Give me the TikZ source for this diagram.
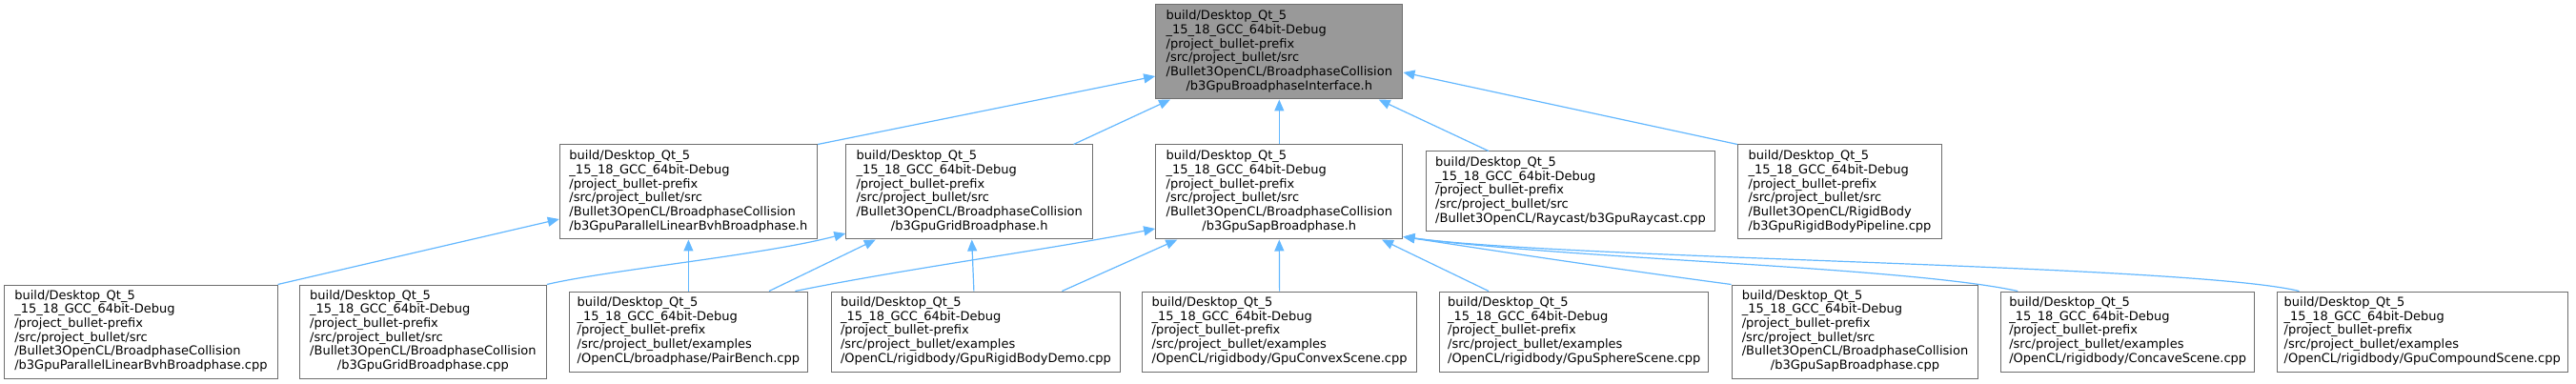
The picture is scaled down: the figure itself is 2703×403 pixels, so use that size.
\documentclass[tikz,border=0pt]{standalone}
\usepackage{fontspec}
\setmainfont{DejaVu Sans}
\usetikzlibrary{arrows.meta}
\definecolor{edgeblue}{HTML}{63B8FF}
\definecolor{boxborder}{HTML}{6E6E6E}
\definecolor{rootfill}{HTML}{999999}
\newcommand{\dpre}{build/Desktop\_Qt\_5\\\_15\_18\_GCC\_64bit-Debug\\/project\_bullet-prefix\\}
\newcommand{\lastc}[1]{\multicolumn{1}{@{}c@{}}{#1}}
\tikzset{
  box/.style={draw=boxborder, fill=white, line width=1pt, inner sep=0pt,
    font=\fontsize{13}{14.67}\selectfont, text=black},
  rootbox/.style={box, fill=rootfill},
  edge/.style={draw=edgeblue, line width=1.2pt, -{Triangle[length=12pt,width=10pt]}}
}
\begin{document}
\begin{tikzpicture}[x=1pt,y=-1pt]
\useasboundingbox (0,0) rectangle (2703,403);
\fill[white] (0,0) rectangle (2703,403);
% row 1
\node[rootbox, minimum width=259.3pt, minimum height=99pt] (top) at (1342.3,54.5)
  {\begin{tabular}{@{}l@{}}\dpre /src/project\_bullet/src\\/Bullet3OpenCL/BroadphaseCollision\\\lastc{/b3GpuBroadphaseInterface.h}\end{tabular}};
% row 2
\node[box, minimum width=270.3pt, minimum height=99pt] (A) at (722.4,201.5)
  {\begin{tabular}{@{}l@{}}\dpre /src/project\_bullet/src\\/Bullet3OpenCL/BroadphaseCollision\\\lastc{/b3GpuParallelLinearBvhBroadphase.h}\end{tabular}};
\node[box, minimum width=258.7pt, minimum height=99pt] (B) at (1017.2,201.5)
  {\begin{tabular}{@{}l@{}}\dpre /src/project\_bullet/src\\/Bullet3OpenCL/BroadphaseCollision\\\lastc{/b3GpuGridBroadphase.h}\end{tabular}};
\node[box, minimum width=259.3pt, minimum height=99pt] (C) at (1342.3,201.5)
  {\begin{tabular}{@{}l@{}}\dpre /src/project\_bullet/src\\/Bullet3OpenCL/BroadphaseCollision\\\lastc{/b3GpuSapBroadphase.h}\end{tabular}};
\node[box, minimum width=302.7pt, minimum height=84pt] (D) at (1648,201)
  {\begin{tabular}{@{}l@{}}\dpre /src/project\_bullet/src\\\lastc{/Bullet3OpenCL/Raycast/b3GpuRaycast.cpp}\end{tabular}};
\node[box, minimum width=213.9pt, minimum height=99pt] (E) at (1930.5,201.5)
  {\begin{tabular}{@{}l@{}}\dpre /src/project\_bullet/src\\/Bullet3OpenCL/RigidBody\\\lastc{/b3GpuRigidBodyPipeline.cpp}\end{tabular}};
% row 3
\node[box, minimum width=286.2pt, minimum height=98pt] (F) at (147.9,348)
  {\begin{tabular}{@{}l@{}}\dpre /src/project\_bullet/src\\/Bullet3OpenCL/BroadphaseCollision\\\lastc{/b3GpuParallelLinearBvhBroadphase.cpp}\end{tabular}};
\node[box, minimum width=259pt, minimum height=98pt] (G) at (443.9,348)
  {\begin{tabular}{@{}l@{}}\dpre /src/project\_bullet/src\\/Bullet3OpenCL/BroadphaseCollision\\\lastc{/b3GpuGridBroadphase.cpp}\end{tabular}};
\node[box, minimum width=250.3pt, minimum height=84pt] (H) at (722.4,348)
  {\begin{tabular}{@{}l@{}}\dpre /src/project\_bullet/examples\\\lastc{/OpenCL/broadphase/PairBench.cpp}\end{tabular}};
\node[box, minimum width=303.1pt, minimum height=84pt] (I) at (1023.9,348)
  {\begin{tabular}{@{}l@{}}\dpre /src/project\_bullet/examples\\\lastc{/OpenCL/rigidbody/GpuRigidBodyDemo.cpp}\end{tabular}};
\node[box, minimum width=287.5pt, minimum height=84pt] (J) at (1342.6,348)
  {\begin{tabular}{@{}l@{}}\dpre /src/project\_bullet/examples\\\lastc{/OpenCL/rigidbody/GpuConvexScene.cpp}\end{tabular}};
\node[box, minimum width=282.5pt, minimum height=84pt] (K) at (1651.7,348)
  {\begin{tabular}{@{}l@{}}\dpre /src/project\_bullet/examples\\\lastc{/OpenCL/rigidbody/GpuSphereScene.cpp}\end{tabular}};
\node[box, minimum width=258.9pt, minimum height=98pt] (L) at (1946.5,348)
  {\begin{tabular}{@{}l@{}}\dpre /src/project\_bullet/src\\/Bullet3OpenCL/BroadphaseCollision\\\lastc{/b3GpuSapBroadphase.cpp}\end{tabular}};
\node[box, minimum width=265.9pt, minimum height=84pt] (M) at (2232.7,348)
  {\begin{tabular}{@{}l@{}}\dpre /src/project\_bullet/examples\\\lastc{/OpenCL/rigidbody/ConcaveScene.cpp}\end{tabular}};
\node[box, minimum width=305.4pt, minimum height=84pt] (N) at (2541.7,348)
  {\begin{tabular}{@{}l@{}}\dpre /src/project\_bullet/examples\\\lastc{/OpenCL/rigidbody/GpuCompoundScene.cpp}\end{tabular}};
% edges to top
\draw[edge] (A.north east) -- ([yshift=-25.5pt]top.west);
\draw[edge] ([xshift=109.3pt]B.north) -- ([xshift=-114.3pt]top.south);
\draw[edge] (C.north) -- (top.south);
\draw[edge] ([xshift=-86pt]D.north) -- ([xshift=104.4pt]top.south);
\draw[edge] (E.north west) -- ([yshift=-21.5pt]top.east);
% edges to A
\draw[edge] (F.north east) -- ([yshift=-28.5pt]A.west);
\draw[edge] (H.north) -- (A.south);
% edges to B
\draw[edge] (G.north east) .. controls (640,283) and (800,268) .. ([yshift=-43.5pt]B.west);
\draw[edge] ([xshift=84.6pt]H.north) -- ([xshift=-98.4pt]B.south);
\draw[edge] ([xshift=-2pt]I.north) -- ([xshift=2.5pt]B.south);
% edges to C
\draw[edge] ([xshift=112pt]H.north) .. controls (950,282) and (1100,262) .. ([yshift=-38.5pt]C.west);
\draw[edge] ([xshift=90.5pt]I.north) -- ([xshift=-107pt]C.south);
\draw[edge] (J.north) -- (C.south);
\draw[edge] ([xshift=-89.7pt]K.north) -- ([xshift=107.7pt]C.south);
\draw[edge] (L.north west) .. controls (1700,283) and (1580,265) .. ([yshift=3pt]C.south east);
\draw[edge] ([xshift=18pt]M.north west) .. controls (2000,280) and (1650,272) .. ([yshift=3pt]C.south east);
\draw[edge] ([xshift=24pt]N.north west) .. controls (2300,278) and (1650,272) .. ([yshift=3pt]C.south east);
\end{tikzpicture}
\end{document}
